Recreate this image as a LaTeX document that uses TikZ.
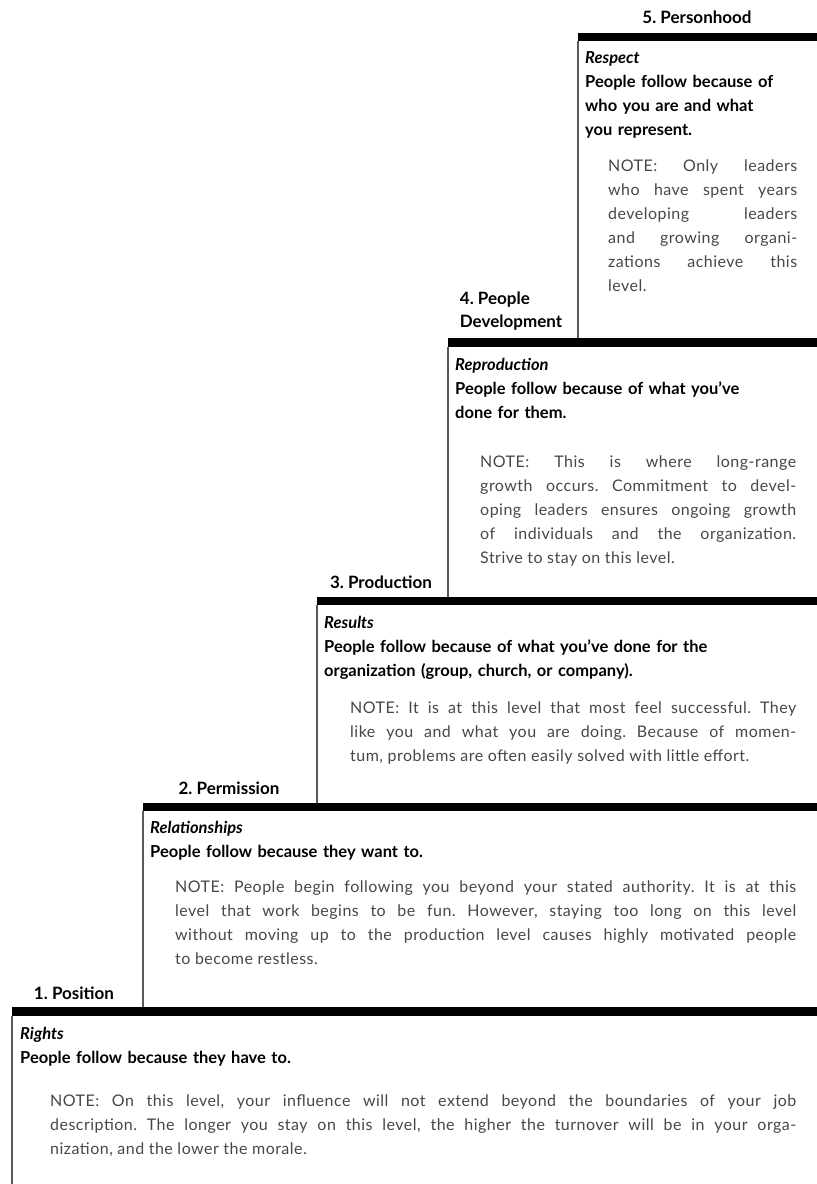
\documentclass[tikz,border=0pt]{standalone}
\usepackage{fontspec}
\setmainfont{Lato}
\newfontfamily\notefont[LetterSpace=3]{Lato}
\frenchspacing
\usetikzlibrary{positioning}

\begin{document}
\begin{tikzpicture}[x=1pt, y=-1pt,
    tread/.style={fill=black},
    riser/.style={draw=black!65, line width=1.8pt},
    tag/.style={anchor=south, inner sep=0pt, align=left, font=\bfseries\fontsize{17}{23}\selectfont},
    head/.style={anchor=north west, inner sep=0pt, align=left, font=\bfseries\fontsize{16.5}{24}\selectfont},
    note/.style={anchor=north west, inner sep=0pt, align=justify, text=black!72, font=\notefont\fontsize{16}{24}\selectfont}
]
\useasboundingbox (0,0) rectangle (817,1184);

% corners of the steps
\coordinate (s5) at (578,33);
\coordinate (s4) at (448,338);
\coordinate (s3) at (317,597);
\coordinate (s2) at (143,803);
\coordinate (s1) at (12,1007);
\coordinate (floor) at (12,1184);

% treads
\fill[tread] (s5) rectangle (817,41);
\fill[tread] (s4) rectangle (817,347);
\fill[tread] (s3) rectangle (817,605);
\fill[tread] (s2) rectangle (817,811);
\fill[tread] (s1) rectangle (817,1016);

% risers
\draw[riser] ([yshift=-8pt]s5) -- (s5 |- s4);
\draw[riser] ([yshift=-9pt]s4) -- (s4 |- s3);
\draw[riser] ([yshift=-8pt]s3) -- (s3 |- s2);
\draw[riser] ([yshift=-8pt]s2) -- (s2 |- s1);
\draw[riser] ([yshift=-9pt]s1) -- (floor);

% level names
\node[tag] (tag5) at (697,24) {5. Personhood};
\node[tag] (tag4) at (511,331) {4. People\\Development};
\node[tag] (tag3) at (381,589) {3. Production};
\node[tag] (tag2) at (229,795) {2. Permission};
\node[tag] (tag1) at (74,1000) {1. Position};

% level 5
\node[head, text width=225pt] (head5) at (585,51) {\textit{Respect}\\People follow because of\\who you are and what\\you represent.};
\node[note, text width=189pt] (note5) at (608,160) {NOTE: Only leaders\linebreak who have spent years\linebreak developing leaders\linebreak and growing organi-\linebreak zations achieve this\linebreak level.};

% level 4
\node[head, text width=355pt] (head4) at (455,358) {\textit{Reproduction}\\People follow because of what you've\\done for them.};
\node[note, text width=316pt] (note4) at (480,456) {NOTE: This is where long-range\linebreak growth occurs. Commitment to devel-\linebreak oping leaders ensures ongoing growth\linebreak of individuals and the organization.\linebreak Strive to stay on this level.};

% level 3
\node[head, text width=485pt] (head3) at (324,616) {\textit{Results}\\People follow because of what you've done for the\\organization (group, church, or company).};
\node[note, text width=446pt] (note3) at (350,702) {NOTE: It is at this level that most feel successful. They\linebreak like you and what you are doing. Because of momen-\linebreak tum, problems are often easily solved with little effort.};

% level 2
\node[head, text width=660pt] (head2) at (150,821) {\textit{Relationships}\\People follow because they want to.};
\node[note, text width=621pt] (note2) at (175,881) {NOTE: People begin following you beyond your stated authority. It is at this\linebreak level that work begins to be fun. However, staying too long on this level\linebreak without moving up to the production level causes highly motivated people\linebreak to become restless.};

% level 1
\node[head, text width=790pt] (head1) at (20,1027) {\textit{Rights}\\People follow because they have to.};
\node[note, text width=746pt] (note1) at (50,1095) {NOTE: On this level, your influence will not extend beyond the boundaries of your job\linebreak description. The longer you stay on this level, the higher the turnover will be in your orga-\linebreak nization, and the lower the morale.};
\end{tikzpicture}
\end{document}
